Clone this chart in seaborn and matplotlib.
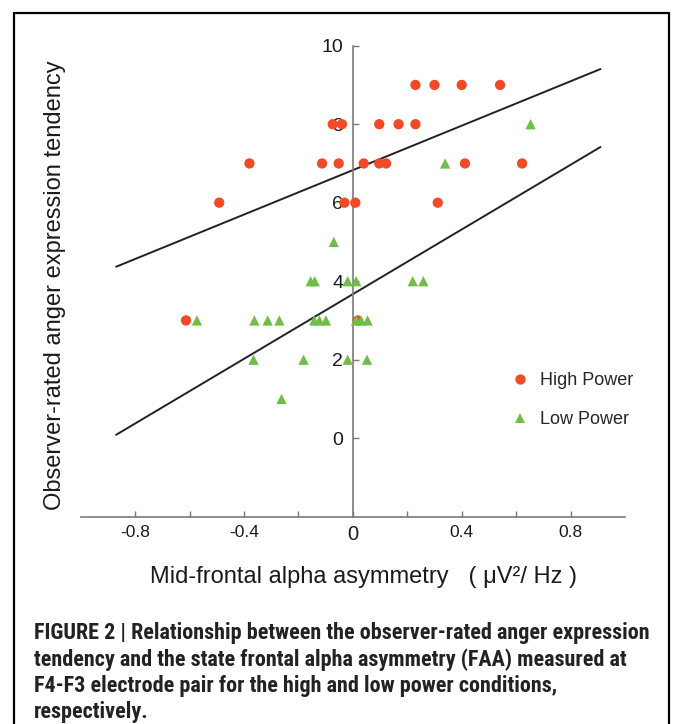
import matplotlib
matplotlib.use("Agg")
import matplotlib.pyplot as plt
import seaborn as sns
import pandas as pd
import numpy as np
from matplotlib.lines import Line2D
from matplotlib import font_manager

# ---------------- data ----------------
high_x = [-0.613, 0.018, -0.491, -0.031, 0.009, 0.312, -0.380, -0.113, -0.052,
          0.040, 0.097, 0.122, 0.412, 0.622, -0.074, -0.040, 0.097, 0.168,
          0.230, 0.230, 0.300, 0.400, 0.541]
high_y = [3, 3, 6, 6, 6, 6, 7, 7, 7,
          7, 7, 7, 7, 7, 8, 8, 8, 8,
          8, 9, 9, 9, 9]
low_x = [-0.070, 0.653, 0.339, -0.155, -0.140, -0.019, 0.012, 0.220, 0.259,
         -0.573, -0.362, -0.313, -0.270, -0.142, -0.123, -0.099, 0.012, 0.030,
         0.054, -0.365, -0.181, -0.019, 0.052, -0.262]
low_y = [5, 8, 7, 4, 4, 4, 4, 4, 4,
         3, 3, 3, 3, 3, 3, 3, 3, 3,
         3, 2, 2, 2, 2, 1]
conditions = ["High Power", "Low Power"]
fit_slopes = [2.83, 4.12]
fit_intercepts = [6.83, 3.67]
fit_x_range = [-0.87, 0.91]
x_major = [-0.8, -0.4, 0, 0.4, 0.8]
x_minor = [-0.6, -0.2, 0.2, 0.6]
x_labels = ["-0.8", "-0.4", "0", "0.4", "0.8"]
y_ticks = [0, 2, 4, 6, 8, 10]
y_labels = ["0", "2", "4", "6", "8", "10"]
x_title = "Mid-frontal alpha asymmetry   ( \u03bcV\u00b2/ Hz )"
y_title = "Observer-rated anger expression tendency"
caption_lines = [
    "FIGURE 2 | Relationship between the observer-rated anger expression",
    "tendency and the state frontal alpha asymmetry (FAA) measured at",
    "F4-F3 electrode pair for the high and low power conditions,",
    "respectively.",
]

df = pd.DataFrame({
    "x": high_x + low_x,
    "y": high_y + low_y,
    "condition": [conditions[0]] * len(high_x) + [conditions[1]] * len(low_x),
})

sns.set_theme(style="white")
plt.rcParams["font.family"] = ["Liberation Sans", "DejaVu Sans"]

W, H = 673, 724
fig = plt.figure(figsize=(W / 100, H / 100), dpi=100)
ax_left, ax_right, ax_top, ax_bottom = 80.7, 625, 45.7, 516.7
ax = fig.add_axes([ax_left / W, 1 - ax_bottom / H,
                   (ax_right - ax_left) / W, (ax_bottom - ax_top) / H])

palette = {"High Power": "#F04A26", "Low Power": "#70BE45"}
markers = {"High Power": "o", "Low Power": "^"}

# regression lines
for slope, icpt in zip(fit_slopes, fit_intercepts):
    xs = np.array(fit_x_range)
    sns.lineplot(x=xs, y=icpt + slope * xs, ax=ax, color="#222222",
                 linewidth=1.4, zorder=1)

sns.scatterplot(data=df, x="x", y="y", hue="condition", style="condition",
                palette=palette, markers=markers, s=55, linewidth=0,
                ax=ax, zorder=3)

ax.set_xlim(-1, 1)
ax.set_ylim(-2, 10)
for s in ["top", "right"]:
    ax.spines[s].set_visible(False)
ax.spines["left"].set_position(("data", 0))
for s in ["left", "bottom"]:
    ax.spines[s].set_color("#7a7a7a")
    ax.spines[s].set_linewidth(1.2)

ax.set_xticks(x_major)
ax.set_xticks(x_minor, minor=True)
ax.set_xticklabels(x_labels)
ax.set_yticks(y_ticks)
ax.set_yticklabels(y_labels)
ax.tick_params(axis="x", which="both", direction="in", length=4, width=1,
               color="#7a7a7a", labelsize=12.5, pad=6, bottom=True,
               labelcolor="#1a1a1a")
ax.tick_params(axis="y", which="both", direction="in", length=4, width=1,
               color="#7a7a7a", labelsize=14, pad=7, left=True,
               labelcolor="#1a1a1a")
for lab in ax.get_xticklabels():
    if lab.get_text() == "0":
        lab.set_fontsize(14.5)
ax.set_xlabel("")
ax.set_ylabel("")

fig.text(363 / W, 1 - 577 / H, x_title, ha="center", va="center",
         fontsize=17, color="#1a1a1a")
fig.text(55 / W, 1 - 285 / H, y_title, ha="center", va="center",
         rotation=90, fontsize=17, color="#1a1a1a")

# legend
sns.move_legend(ax, loc="center left", bbox_to_anchor=(0.7897, 0.2468),
                frameon=False, title=None, fontsize=13,
                handlelength=1.0, handletextpad=0.61, labelspacing=1.22,
                borderpad=0, borderaxespad=0)

# caption (condensed bold face if available)
avail = {f.name for f in font_manager.fontManager.ttflist}
cap_families = [f for f in ["Roboto Condensed", "Liberation Sans Narrow",
                            "Roboto", "Liberation Sans"] if f in avail]
cap_family = cap_families[0] if cap_families else "DejaVu Sans"
cap_size = 15.95 if "Condensed" in cap_family or "Narrow" in cap_family else 12.9
for i, line in enumerate(caption_lines):
    fig.text(34 / W, 1 - (633 + 26.3 * i) / H, line, ha="left", va="center",
             fontsize=cap_size, fontweight="bold", color="#222222",
             family=[cap_family, "DejaVu Sans"])

# frame border
lw = 1.6
fig.add_artist(Line2D([14 / W, 14 / W], [1 - 13.3 / H, 0], transform=fig.transFigure,
                      color="black", linewidth=lw))
fig.add_artist(Line2D([669 / W, 669 / W], [1 - 13.3 / H, 0], transform=fig.transFigure,
                      color="black", linewidth=lw))
fig.add_artist(Line2D([14 / W, 669 / W], [1 - 13.3 / H, 1 - 13.3 / H],
                      transform=fig.transFigure, color="black", linewidth=lw))

fig.savefig("out.png", dpi=100)
